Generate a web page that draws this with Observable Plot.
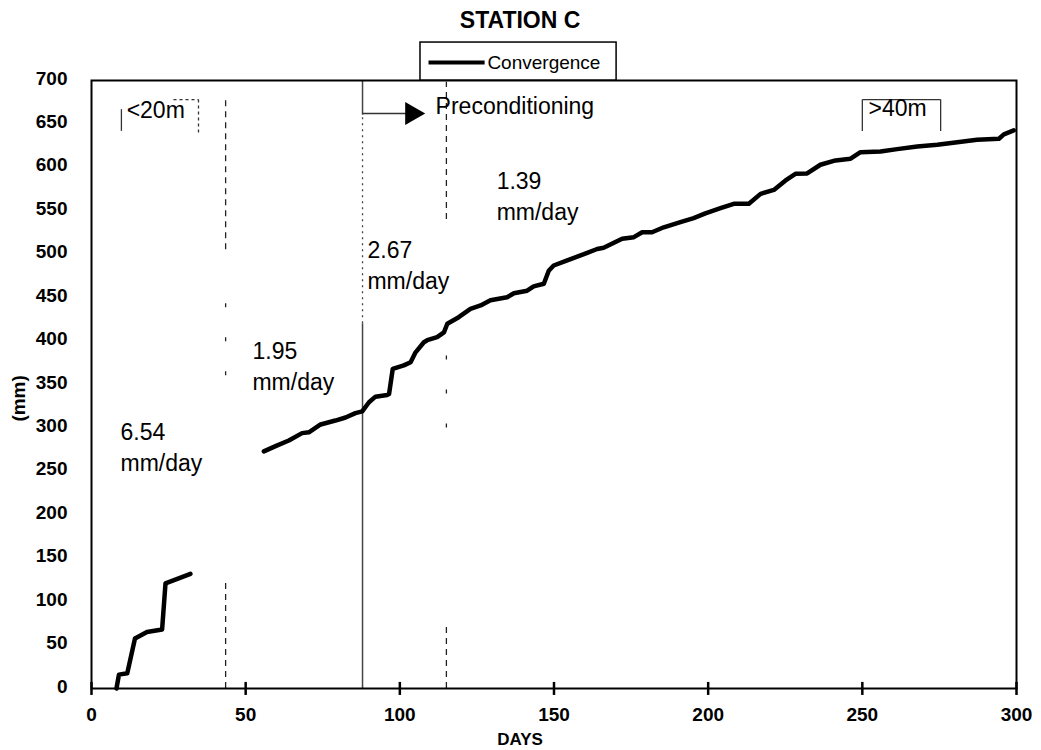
<!DOCTYPE html>
<html><head><meta charset="utf-8">
<script src="https://cdn.jsdelivr.net/npm/d3@7"></script>
<script src="https://cdn.jsdelivr.net/npm/@observablehq/plot@0.6"></script>
<style>body{margin:0;background:#fff} svg{display:block}</style>
</head><body><div id="chart"></div>
<script>
// ---- data ----
const earlyDays = [8.1, 8.9, 11.6, 14.1, 18, 22.9, 24, 32.1];
const earlyMm   = [0, 16, 17.6, 57.5, 65, 68, 121, 132];
const lateDays = [55.9,59.7,64,68.3,70.5,74.3,79.1,82.4,85.6,87.8,90,92.1,95.9,96.5,97.7,101.3,103.5,105.1,107.8,108.9,112.1,114.3,115.4,119.1,122.9,126.2,129.4,134.8,137,141.3,143.4,146.7,148.3,149.9,154.3,159.7,164,166.1,172.1,175.9,178.6,181.8,185.6,191,195.3,199.1,204,208.3,213.2,217,221.3,225.1,228.3,232.1,236.4,241.3,246.2,249.4,255.9,261.3,267.8,274.3,280.8,287.2,294.3,295.9,299.1];
const lateMm = [273,279,285.5,294,295,304,308.5,312,317,319,329.6,336,338,339,368,372,375.7,387,398.7,401,404.5,410,420,427.5,437,441,447,450.5,455,458,463,466,481,487,493,500,506,507.4,517.7,519.6,525.3,525.3,531,537,541.5,547,553,558,558,569.5,574,585,592.5,593,603,608,610,617.5,618.3,621,624,626,629,631.7,633,638,642.5];
const xTicks = [0, 50, 100, 150, 200, 250, 300];
const yTicks = [0, 50, 100, 150, 200, 250, 300, 350, 400, 450, 500, 550, 600, 650, 700];
const rateLabels = ["6.54\nmm/day", "1.95\nmm/day", "2.67\nmm/day", "1.39\nmm/day"];
const zoneLabels = ["<20m", "Preconditioning", ">40m"];
const boundaryDays = [43.5, 87.9, 115.1];
const seriesName = "Convergence";
const title = "STATION C";

// ---- annotation layout (day / mm positions) ----
const ratePos = [[9.4, 280], [52.2, 372.4], [89.5, 488.7], [131.4, 568.7]];
const zonePos = [[11.4, 665.5], [111.6, 669.5], [252, 667.8]];
const dashedSegs = [
  {x: boundaryDays[0], a: 505, b: 680},
  {x: boundaryDays[0], a: 0, b: 125},
  {x: boundaryDays[2], a: 540, b: 698},
  {x: boundaryDays[2], a: 0, b: 72}
];
const sparseSegs = [
  {x: boundaryDays[0], a: 360, b: 450},
  {x: boundaryDays[2], a: 300, b: 420}
];
const boxSolid = [
  {x1: 9.7, y1: 642, x2: 9.7, y2: 667},
  {x1: 250, y1: 678, x2: 275.4, y2: 678},
  {x1: 250, y1: 678, x2: 250, y2: 642},
  {x1: 275.4, y1: 678, x2: 275.4, y2: 642}
];
const boxDotted = [
  {x1: 26.6, y1: 678, x2: 34.7, y2: 678},
  {x1: 34.7, y1: 678, x2: 34.7, y2: 640}
];
const tickSpan = xTicks.map(d => ({day: d, lo: -8, hi: 7}));

const series = [
  ...earlyDays.map((d, i) => ({day: d, mm: earlyMm[i], seg: "a"})),
  ...lateDays.map((d, i) => ({day: d, mm: lateMm[i], seg: "b"}))
];

const font = "'Liberation Sans', Arial, Helvetica, sans-serif";

const chart = Plot.plot({
  width: 1041,
  height: 750,
  marginLeft: 91, marginRight: 25, marginTop: 80, marginBottom: 62,
  style: {fontFamily: font, background: "#fff", color: "#000"},
  x: {domain: [0, 300]},
  y: {domain: [0, 700]},
  marks: [
    // boundary lines
    Plot.ruleX(dashedSegs, {x: "x", y1: "a", y2: "b", stroke: "#222", strokeWidth: 1.3, strokeDasharray: "6,5"}),
    Plot.ruleX(sparseSegs, {x: "x", y1: "a", y2: "b", stroke: "#222", strokeWidth: 1.3, strokeDasharray: "4,30"}),
    Plot.ruleX([boundaryDays[1]], {y1: 0, y2: 420, stroke: "#444", strokeWidth: 1.5}),
    Plot.ruleX([boundaryDays[1]], {y1: 420, y2: 660, stroke: "#444", strokeWidth: 1.3, strokeDasharray: "2,4"}),
    Plot.ruleX([boundaryDays[1]], {y1: 660, y2: 700, stroke: "#444", strokeWidth: 1.5}),
    // arrow
    Plot.link([0], {x1: boundaryDays[1], x2: 102, y1: 662, y2: 662, stroke: "#333", strokeWidth: 1.5}),
    Plot.dot([0], {x: 103.9, y: 662, symbol: "triangle", r: 8.6, rotate: 90, fill: "black", stroke: "none"}),
    // zone boxes
    Plot.link(boxSolid, {x1: "x1", y1: "y1", x2: "x2", y2: "y2", stroke: "#333", strokeWidth: 1.3}),
    Plot.link(boxDotted, {x1: "x1", y1: "y1", x2: "x2", y2: "y2", stroke: "#333", strokeWidth: 1.3, strokeDasharray: "3,3"}),
    // series
    Plot.line(series, {x: "day", y: "mm", z: "seg", stroke: "black", strokeWidth: 4.5, strokeLinejoin: "round"}),
    // text labels
    Plot.text(rateLabels, {x: (d, i) => ratePos[i][0], y: (d, i) => ratePos[i][1], text: d => d, textAnchor: "start", lineAnchor: "middle", lineHeight: 1.35, fontSize: 23, fill: "black"}),
    Plot.text(zoneLabels, {x: (d, i) => zonePos[i][0], y: (d, i) => zonePos[i][1], text: d => d, textAnchor: "start", lineAnchor: "middle", fontSize: 23, fill: "black"}),
    // axes
    Plot.axisY(yTicks, {tickSize: 0, tickPadding: 24, fontSize: 19, fontWeight: "bold", label: null, dy: -2}),
    Plot.axisX(xTicks, {tickSize: 0, tickPadding: 19, fontSize: 19, fontWeight: "bold", label: null}),
    Plot.frame({stroke: "black", strokeWidth: 2}),
    Plot.ruleX(tickSpan, {x: "day", y1: "lo", y2: "hi", stroke: "black", strokeWidth: 2.5}),
    // legend
    Plot.rect([0], {x1: 106.7, x2: 170.3, y1: 700, y2: 743.7, fill: "white", stroke: "black", strokeWidth: 1.5}),
    Plot.link([0], {x1: 109.3, x2: 127.5, y1: 720.7, y2: 720.7, stroke: "black", strokeWidth: 4}),
    Plot.text([seriesName], {x: 128.4, y: 720.7, textAnchor: "start", lineAnchor: "middle", fontSize: 19, fill: "black", fontFamily: "'Liberation Sans Narrow', 'Arial Narrow', " + font}),
    // titles
    Plot.text([title], {x: 139, frameAnchor: "top", lineAnchor: "middle", textAnchor: "middle", dy: -60, fontSize: 23, fontWeight: "bold", fill: "black"}),
    Plot.text(["DAYS"], {x: 139, frameAnchor: "bottom", lineAnchor: "middle", textAnchor: "middle", dy: 51, fontSize: 17, fontWeight: "bold", fill: "black"}),
    Plot.text(["(mm)"], {y: 334, frameAnchor: "left", textAnchor: "middle", lineAnchor: "middle", dx: -73, rotate: -90, fontSize: 19, fontWeight: "bold", fill: "black"})
  ]
});
document.getElementById("chart").appendChild(chart);
</script>
</body></html>
